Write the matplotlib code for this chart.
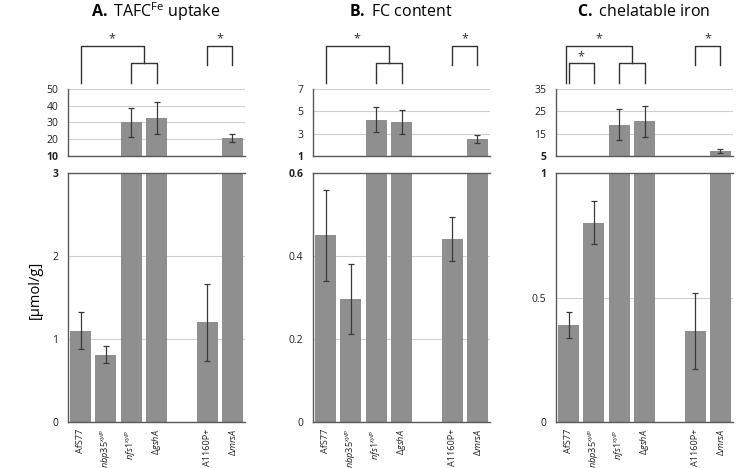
import matplotlib
matplotlib.use("Agg")
import matplotlib.pyplot as plt
import matplotlib.transforms as mtransforms
import numpy as np

plt.rcParams['font.family'] = ['Open Sans', 'DejaVu Sans']
plt.rcParams['mathtext.fontset'] = 'custom'
plt.rcParams['mathtext.rm'] = 'Open Sans'
plt.rcParams['mathtext.it'] = 'Open Sans:italic'
plt.rcParams['mathtext.bf'] = 'Open Sans:bold'

categories = ["AfS77", r"$\it{nbp35}^{\it{xylP}}$", r"$\it{nfs1}^{\it{xylP}}$",
              r"$\Delta\it{gshA}$", r"A1160P+", r"$\Delta\it{mrsA}$"]
positions = [0, 1, 2, 3, 5, 6]

titles = [r"$\bf{A.}$ TAFC$^{\rm Fe}$ uptake", r"$\bf{B.}$ FC content", r"$\bf{C.}$ chelatable iron"]

tafc_vals = [1.10, 0.81, 30.0, 32.7, 1.20, 20.6]
tafc_err = [0.22, 0.10, 8.5, 9.3, 0.46, 2.3]
fc_vals = [0.45, 0.296, 4.25, 4.05, 0.44, 2.5]
fc_err = [0.11, 0.085, 1.1, 1.04, 0.053, 0.37]
chel_vals = [0.389, 0.80, 19.1, 20.5, 0.365, 7.3]
chel_err = [0.053, 0.086, 6.8, 7.1, 0.153, 1.0]

top_ticks = [[10, 20, 30, 40, 50], [1, 3, 5, 7], [5, 15, 25, 35]]
bot_ticks = [[0, 1, 2, 3], [0, 0.2, 0.4, 0.6], [0, 0.5, 1]]
bot_ticklabels = [["0", "1", "2", "3"], ["0", "0.2", "0.4", "0.6"], ["0", "0.5", "1"]]

vals = [tafc_vals, fc_vals, chel_vals]
errs = [tafc_err, fc_err, chel_err]

bar_color = "#8f8f8f"
err_color = "#3a3a3a"
spine_color = "#5a5a5a"
grid_color = "#cfcfcf"

fig = plt.figure(figsize=(7.36, 4.68), dpi=100)
W, H = 736, 468
lefts = [68, 313, 556]
width_px = 177

for i in range(3):
    l = lefts[i] / W
    w = width_px / W
    ax_t = fig.add_axes([l, 1 - 156 / H, w, 67 / H])
    ax_b = fig.add_axes([l, 1 - 422 / H, w, 249 / H])
    for ax in (ax_t, ax_b):
        ax.bar(positions, vals[i], width=0.83, color=bar_color, zorder=2)
        ax.errorbar(positions, vals[i], yerr=errs[i], fmt='none', ecolor=err_color,
                    elinewidth=0.9, capsize=2.5, capthick=0.9, zorder=3)
        ax.set_xlim(-0.5, 6.5)
        ax.spines['right'].set_visible(False)
        for s in ('left', 'bottom', 'top'):
            ax.spines[s].set_color(spine_color)
            ax.spines[s].set_linewidth(1.0)
        ax.tick_params(length=0, labelsize=7.5, colors="#222222", pad=7)
        ax.yaxis.grid(True, color=grid_color, linewidth=0.8, zorder=0)
        ax.set_axisbelow(True)
    ax_t.spines['top'].set_visible(False)
    ax_t.set_ylim(top_ticks[i][0], top_ticks[i][-1])
    ax_t.set_yticks(top_ticks[i])
    ax_t.set_xticks([])
    ax_t.set_yticklabels([str(t) for t in top_ticks[i]])
    ax_t.get_yticklabels()[0].set_fontweight('bold')
    ax_b.set_ylim(bot_ticks[i][0], bot_ticks[i][-1])
    ax_b.set_yticks(bot_ticks[i])
    ax_b.set_yticklabels(bot_ticklabels[i])
    ax_b.get_yticklabels()[-1].set_fontweight('bold')
    ax_b.set_xticks(positions)
    ax_b.set_xticklabels(categories, rotation=90, fontsize=6.6)
    ax_b.tick_params(axis='x', pad=5)

    fig.text((lefts[i] + 88) / W, 1 - 12 / H, titles[i], ha='center', va='center', fontsize=11.5)

    tr = mtransforms.blended_transform_factory(ax_t.transData, fig.transFigure)
    y_top = 1 - 46 / H
    y_mid = 1 - 63 / H
    y_low = 1 - 83 / H
    y_r = 1 - 65 / H
    kw = dict(color="#333333", linewidth=1.0, transform=tr, clip_on=False)
    skw = dict(ha='center', va='center', fontsize=9, color="#333333", transform=tr)
    if i < 2:
        ax_t.plot([0, 0, 2.5, 2.5], [y_low, y_top, y_top, y_mid], **kw)
        ax_t.plot([2, 2, 3, 3], [y_low, y_mid, y_mid, y_low], **kw)
        ax_t.text(1.25, 1 - 39 / H, "*", **skw)
    else:
        ax_t.plot([-0.1, -0.1, 2.5, 2.5], [y_low, y_top, y_top, y_mid], **kw)
        ax_t.plot([0, 0, 1, 1], [y_low, y_mid, y_mid, y_low], **kw)
        ax_t.plot([2, 2, 3, 3], [y_low, y_mid, y_mid, y_low], **kw)
        ax_t.text(1.2, 1 - 39 / H, "*", **skw)
        ax_t.text(0.5, 1 - 57 / H, "*", **skw)
    ax_t.plot([5, 5, 6, 6], [y_r, y_top, y_top, y_r], **kw)
    ax_t.text(5.5, 1 - 39 / H, "*", **skw)

fig.text(35 / W, 1 - 290 / H, "[µmol/g]", rotation=90, ha='center', va='center', fontsize=10.5)

fig.savefig("out.png", dpi=100)
